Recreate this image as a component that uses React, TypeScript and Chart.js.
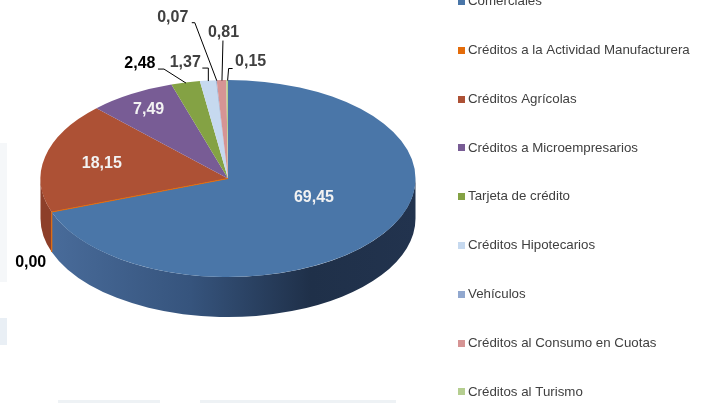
import { useEffect, useRef } from 'react';
import { Chart, registerables } from 'chart.js';

Chart.register(...registerables);

const categories = [
  'Comerciales',
  'Créditos a la Actividad Manufacturera',
  'Créditos Agrícolas',
  'Créditos a Microempresarios',
  'Tarjeta de crédito',
  'Créditos Hipotecarios',
  'Vehículos',
  'Créditos al Consumo en Cuotas',
  'Créditos al Turismo',
];
const shares = [69.45, 0.0, 18.15, 7.49, 2.48, 1.37, 0.07, 0.81, 0.15];
const topColors = ['#4A76A8', '#E46C0A', '#AD5135', '#785C95', '#84A244', '#C6D9EF', '#91A8CF', '#D69494', '#B5CE90'];
const sideColors = ['#35527A', '#B85508', '#8D3F2A', '#5E4877', '#6A8436', '#A3B4C8', '#7387A8', '#AF7676', '#91A874'];

// label placement (relative to slice geometry)
type LabelCfg = {
  kind: 'inside' | 'outside' | 'zero';
  r?: number; dy?: number; color: string;
  pts?: [number, number][]; tx?: number; ty?: number; align?: CanvasTextAlign;
};
const labelCfg: LabelCfg[] = [
  { kind: 'inside', r: 0.56, dy: -13, color: '#f2f2f2' },
  { kind: 'zero', tx: -21, ty: 51, color: '#000000', align: 'center' },
  { kind: 'inside', r: 0.69, dy: 0, color: '#f2f2f2' },
  { kind: 'inside', r: 0.82, dy: 0, color: '#f2f2f2' },
  { kind: 'outside', color: '#000000', pts: [[0, 0], [-22, -14], [-28, -14]], tx: -30, ty: -19, align: 'right' },
  { kind: 'outside', color: '#404040', pts: [[0, 0], [0, -13], [-6, -13]], tx: -7, ty: -18, align: 'right' },
  { kind: 'outside', color: '#404040', pts: [[0, 0], [-22, -58], [-25, -58]], tx: -28, ty: -63, align: 'right' },
  { kind: 'outside', color: '#404040', pts: [[0, 0], [1, -40]], tx: 2, ty: -47, align: 'center' },
  { kind: 'outside', color: '#404040', pts: [[0, 0], [1, -12], [5, -12]], tx: 8, ty: -18, align: 'left' },
];

const CY = 178.5;
const RY = 98.5;
const DEPTH = 40;
const fmt = (v: number) => v.toFixed(2).replace('.', ',');

const pie3d = {
  id: 'pie3d',
  beforeDraw(chart: any) {
    const ctx = chart.ctx as CanvasRenderingContext2D;
    ctx.save();
    ctx.fillStyle = '#ffffff';
    ctx.fillRect(0, 0, chart.width, chart.height);
    ctx.fillStyle = '#f5f7f9';
    ctx.fillRect(0, 143, 7, 139);
    ctx.fillStyle = '#e9eff5';
    ctx.fillRect(0, 318, 7, 27);
    ctx.fillStyle = '#eef2f5';
    ctx.fillRect(58, 400, 102, 3);
    ctx.fillRect(200, 400, 196, 3);
    ctx.restore();
  },
  beforeDatasetsDraw(chart: any) {
    const ctx = chart.ctx as CanvasRenderingContext2D;
    const arcs = chart.getDatasetMeta(0).data;
    if (!arcs.length) return;
    const cx = arcs[0].x;
    const rx = arcs[0].outerRadius;
    ctx.save();
    arcs.forEach((arc: any, i: number) => {
      const s = Math.max(arc.startAngle, 0);
      const e = Math.min(arc.endAngle, Math.PI);
      if (e <= s) return;
      ctx.beginPath();
      ctx.ellipse(cx, CY, rx, RY, 0, s, e, false);
      ctx.ellipse(cx, CY + DEPTH, rx, RY, 0, e, s, true);
      ctx.closePath();
      if (i === 0) {
        const g = ctx.createLinearGradient(cx - rx, 0, cx + rx, 0);
        g.addColorStop(0, '#4A6D9C');
        g.addColorStop(0.4, '#36547D');
        g.addColorStop(0.72, '#1F3049');
        g.addColorStop(1, '#22334E');
        ctx.fillStyle = g;
      } else {
        ctx.fillStyle = sideColors[i];
      }
      ctx.fill();
    });
    // zero-value slice edge on the side
    arcs.forEach((arc: any, i: number) => {
      if (shares[i] !== 0) return;
      const a = arc.startAngle;
      const x = cx + rx * Math.cos(a);
      const y = CY + RY * Math.sin(a);
      ctx.strokeStyle = topColors[i];
      ctx.lineWidth = 1.2;
      ctx.beginPath();
      ctx.moveTo(x, y);
      ctx.lineTo(x, y + DEPTH);
      ctx.stroke();
    });
    ctx.restore();
    ctx.save();
    const sy = RY / rx;
    ctx.translate(0, CY);
    ctx.scale(1, sy);
    ctx.translate(0, -arcs[0].y);
  },
  afterDatasetsDraw(chart: any) {
    const ctx = chart.ctx as CanvasRenderingContext2D;
    ctx.restore();
    const arcs = chart.getDatasetMeta(0).data;
    if (!arcs.length) return;
    const cx = arcs[0].x;
    const rx = arcs[0].outerRadius;
    ctx.save();
    // zero-value slice edge on top
    arcs.forEach((arc: any, i: number) => {
      if (shares[i] !== 0) return;
      const a = arc.startAngle;
      ctx.strokeStyle = topColors[i];
      ctx.lineWidth = 1.2;
      ctx.beginPath();
      ctx.moveTo(cx, CY);
      ctx.lineTo(cx + rx * Math.cos(a), CY + RY * Math.sin(a));
      ctx.stroke();
    });
    ctx.font = 'bold 16px "Liberation Sans", Arial, sans-serif';
    ctx.textBaseline = 'middle';
    arcs.forEach((arc: any, i: number) => {
      const cfg = labelCfg[i];
      const mid = (arc.startAngle + arc.endAngle) / 2;
      const text = fmt(shares[i]);
      ctx.fillStyle = cfg.color;
      if (cfg.kind === 'inside') {
        const r = cfg.r || 0.6;
        const x = cx + rx * r * Math.cos(mid);
        const y = CY + RY * r * Math.sin(mid) + (cfg.dy || 0);
        ctx.textAlign = 'center';
        ctx.fillText(text, x, y);
      } else {
        const ax = cx + rx * Math.cos(mid);
        const ay = CY + RY * Math.sin(mid);
        if (cfg.pts) {
          ctx.strokeStyle = '#000000';
          ctx.lineWidth = 1;
          ctx.beginPath();
          cfg.pts.forEach(([dx, dy], k) => {
            if (k === 0) ctx.moveTo(ax + dx + 0.5, ay + dy + 0.5);
            else ctx.lineTo(ax + dx + 0.5, ay + dy + 0.5);
          });
          ctx.stroke();
        }
        ctx.textAlign = cfg.align || 'center';
        ctx.fillText(text, ax + (cfg.tx || 0), ay + (cfg.ty || 0));
      }
    });
    ctx.restore();
  },
  afterDraw(chart: any) {
    const ctx = chart.ctx as CanvasRenderingContext2D;
    ctx.save();
    ctx.font = '13.3px "Liberation Sans", Arial, sans-serif';
    ctx.textBaseline = 'middle';
    ctx.textAlign = 'left';
    const labels: string[] = chart.data.labels;
    labels.forEach((lab, i) => {
      const y = 1.5 + i * 48.8;
      ctx.fillStyle = topColors[i];
      ctx.fillRect(458, Math.round(y - 3.5), 7, 7);
      ctx.fillStyle = '#404040';
      ctx.fillText(lab, 468, y);
    });
    ctx.restore();
  },
};

export default function App() {
  const ref = useRef<HTMLCanvasElement>(null);
  useEffect(() => {
    document.body.style.margin = '0';
    const canvas = ref.current!;
    const chart = new Chart(canvas, {
      type: 'pie',
      data: {
        labels: categories,
        datasets: [
          {
            data: shares,
            backgroundColor: topColors,
            borderWidth: 0,
            clip: false,
          } as any,
        ],
      },
      options: {
        responsive: false,
        animation: false,
        events: [],
        radius: 187.5,
        layout: { padding: { left: 0, right: 246, top: 0, bottom: 0 } },
        plugins: { legend: { display: false }, tooltip: { enabled: false } },
      } as any,
      plugins: [pie3d],
    });
    return () => chart.destroy();
  }, []);
  return (
    <div style={{ position: 'absolute', left: 0, top: 0, width: 702, height: 403, background: '#fff' }}>
      <canvas ref={ref} width={702} height={403} style={{ display: 'block' }} />
    </div>
  );
}
